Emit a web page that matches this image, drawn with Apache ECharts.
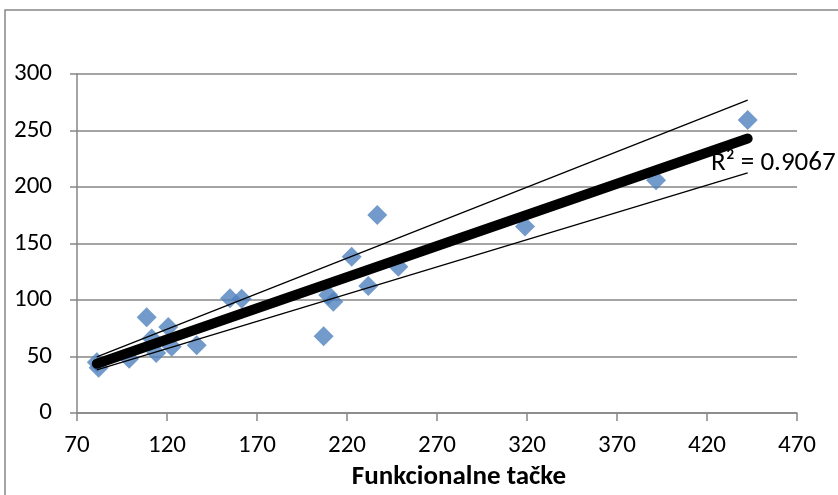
<!DOCTYPE html>
<html>
<head>
<meta charset="utf-8">
<script src="https://cdn.jsdelivr.net/npm/echarts@6/dist/echarts.min.js"></script>
<style>
html,body{margin:0;padding:0;background:#fff;}
#chart{width:838px;height:495px;}
</style>
</head>
<body>
<div id="chart"></div>
<script>
// Data
var xValues = [81, 82, 99, 108.7, 111.5, 114, 120.7, 122.6, 136.5, 155, 161.5, 207, 209.6, 212.4, 222.6, 231.8, 236.8, 248.5, 318.9, 391.7, 442.6];
var yValues = [45, 40, 48, 84.7, 66, 53, 76, 58.7, 60, 101.5, 101, 68, 104.4, 98.5, 138.3, 112.4, 175.2, 129.5, 165, 206, 259.3];
var xTicks = [70, 120, 170, 220, 270, 320, 370, 420, 470];
var yTicks = [0, 50, 100, 150, 200, 250, 300];
var bandFactors = [1.14, 0.875];
var xAxisTitle = 'Funkcionalne tačke';
var rSquaredText = 'R² = 0.9067';

// least-squares fit
var n = xValues.length, mx = 0, my = 0;
for (var i = 0; i < n; i++) { mx += xValues[i]; my += yValues[i]; }
mx /= n; my /= n;
var sxy = 0, sxx = 0;
for (var i = 0; i < n; i++) { sxy += (xValues[i]-mx)*(yValues[i]-my); sxx += (xValues[i]-mx)*(xValues[i]-mx); }
var slope = sxy/sxx, intercept = my - slope*mx;
var xMin = Math.min.apply(null, xValues), xMax = Math.max.apply(null, xValues);
function fit(x, f){ return f*(slope*x + intercept); }

var points = xValues.map(function(x, i){ return [x, yValues[i]]; });
var fontFam = 'Carlito, "Open Sans", sans-serif';
var gray = '#868686';

var chart = echarts.init(document.getElementById('chart'));
chart.setOption({
  animation: false,
  backgroundColor: '#fff',
  grid: {left: 77, right: 41, top: 74, bottom: 82, containLabel: false, outerBoundsMode: 'none'},
  graphic: [
    {type: 'rect', shape: {x: 5, y: 10, width: 900, height: 600}, style: {fill: 'none', stroke: gray, lineWidth: 1.5}, z: -1},
    {type: 'text', left: 711, top: 150, style: {text: rSquaredText, font: '27px ' + fontFam, fill: '#000'}, z: 10}
  ],
  xAxis: {
    type: 'value', min: xTicks[0], max: xTicks[xTicks.length-1], interval: xTicks[1]-xTicks[0],
    name: xAxisTitle, nameLocation: 'middle', nameGap: 51,
    nameTextStyle: {fontFamily: fontFam, fontSize: 27, fontWeight: 'bold', color: '#000', padding: [0, 0, 0, 44]},
    axisLine: {show: true, lineStyle: {color: gray, width: 1.5}},
    axisTick: {show: true, inside: false, length: 8, lineStyle: {color: gray, width: 1.5}},
    axisLabel: {fontFamily: fontFam, fontSize: 25, color: '#000', margin: 20},
    splitLine: {show: false}
  },
  yAxis: {
    type: 'value', min: yTicks[0], max: yTicks[yTicks.length-1], interval: yTicks[1]-yTicks[0],
    axisLine: {show: true, lineStyle: {color: gray, width: 1.5}},
    axisTick: {show: true, inside: false, length: 7, lineStyle: {color: gray, width: 1.5}},
    axisLabel: {fontFamily: fontFam, fontSize: 25, color: '#000', margin: 25},
    splitLine: {show: true, lineStyle: {color: gray, width: 1.5}}
  },
  series: [
    {type: 'scatter', data: points, symbol: 'diamond', symbolSize: 20, itemStyle: {color: '#4F81BD'}, z: 2},
    {type: 'line', data: [[xMin, fit(xMin, 1)], [xMax, fit(xMax, 1)]], showSymbol: false, symbol: 'none',
     lineStyle: {color: '#000', width: 10, cap: 'round'}, z: 4},
    {type: 'line', data: [[xMin, fit(xMin, bandFactors[0])], [xMax, fit(xMax, bandFactors[0])]], showSymbol: false, symbol: 'none',
     lineStyle: {color: '#000', width: 1.3}, z: 3},
    {type: 'line', data: [[xMin, fit(xMin, bandFactors[1])], [xMax, fit(xMax, bandFactors[1])]], showSymbol: false, symbol: 'none',
     lineStyle: {color: '#000', width: 1.3}, z: 3}
  ]
});
</script>
</body>
</html>
